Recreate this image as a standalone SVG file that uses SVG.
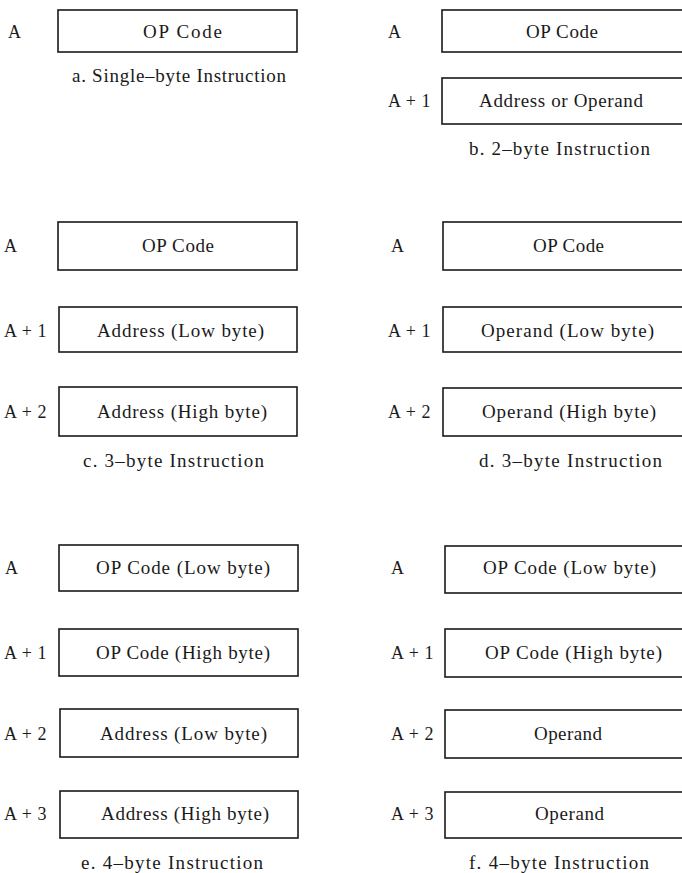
<svg xmlns="http://www.w3.org/2000/svg" width="682" height="873" viewBox="0 0 682 873">
  <style>
    .box { fill: #ffffff; stroke: #1a1a1a; stroke-width: 1.6; }
    .lbl { font-family: "Liberation Serif", "Times New Roman", serif; font-size: 19px; fill: #1a1a1a; }
    .addr { font-family: "Liberation Serif", "Times New Roman", serif; font-size: 18px; fill: #1a1a1a; letter-spacing: 0.6px; }
    .cap { font-family: "Liberation Serif", "Times New Roman", serif; font-size: 19px; fill: #1a1a1a; }
  </style>
  <rect width="682" height="873" fill="#ffffff"/>

  <!-- a. single-byte instruction -->
  <g id="panel-a">
    <text class="addr" x="8" y="38">A</text>
    <g id="a-byte0"><rect class="box" x="58" y="10" width="239" height="42"/><text class="lbl" x="143" y="38" textLength="79" lengthAdjust="spacing">OP Code</text></g>
    <text class="cap" x="72" y="82" textLength="214" lengthAdjust="spacing">a.  Single–byte Instruction</text>
  </g>

  <!-- b. 2-byte instruction -->
  <g id="panel-b">
    <text class="addr" x="388" y="38">A</text>
    <g id="b-byte0"><rect class="box" x="442" y="10" width="250" height="42"/><text class="lbl" x="526" y="38" textLength="72" lengthAdjust="spacing">OP Code</text></g>
    <text class="addr" x="388" y="107">A + 1</text>
    <g id="b-byte1"><rect class="box" x="442" y="78" width="250" height="46"/><text class="lbl" x="479" y="107" textLength="164" lengthAdjust="spacing">Address or Operand</text></g>
    <text class="cap" x="469" y="155" textLength="181" lengthAdjust="spacing">b.  2–byte Instruction</text>
  </g>

  <!-- c. 3-byte instruction (address) -->
  <g id="panel-c">
    <text class="addr" x="4" y="252">A</text>
    <g id="c-byte0"><rect class="box" x="58" y="222" width="239" height="48"/><text class="lbl" x="142" y="252" textLength="72" lengthAdjust="spacing">OP Code</text></g>
    <text class="addr" x="4" y="337">A + 1</text>
    <g id="c-byte1"><rect class="box" x="59" y="307" width="238" height="45"/><text class="lbl" x="97" y="337" textLength="167" lengthAdjust="spacing">Address (Low byte)</text></g>
    <text class="addr" x="4" y="418">A + 2</text>
    <g id="c-byte2"><rect class="box" x="59" y="387" width="238" height="49"/><text class="lbl" x="97" y="418" textLength="170" lengthAdjust="spacing">Address (High byte)</text></g>
    <text class="cap" x="83" y="467" textLength="181" lengthAdjust="spacing">c.  3–byte Instruction</text>
  </g>

  <!-- d. 3-byte instruction (operand) -->
  <g id="panel-d">
    <text class="addr" x="391" y="252">A</text>
    <g id="d-byte0"><rect class="box" x="443" y="222" width="250" height="48"/><text class="lbl" x="533" y="252" textLength="71" lengthAdjust="spacing">OP Code</text></g>
    <text class="addr" x="388" y="337">A + 1</text>
    <g id="d-byte1"><rect class="box" x="443" y="307" width="250" height="45"/><text class="lbl" x="481" y="337" textLength="173" lengthAdjust="spacing">Operand (Low byte)</text></g>
    <text class="addr" x="388" y="418">A + 2</text>
    <g id="d-byte2"><rect class="box" x="443" y="388" width="250" height="48"/><text class="lbl" x="482" y="418" textLength="174" lengthAdjust="spacing">Operand (High byte)</text></g>
    <text class="cap" x="479" y="467" textLength="183" lengthAdjust="spacing">d. 3–byte Instruction</text>
  </g>

  <!-- e. 4-byte instruction (address) -->
  <g id="panel-e">
    <text class="addr" x="5" y="574">A</text>
    <g id="e-byte0"><rect class="box" x="59" y="545" width="239" height="46"/><text class="lbl" x="96" y="574" textLength="174" lengthAdjust="spacing">OP Code (Low byte)</text></g>
    <text class="addr" x="4" y="659">A + 1</text>
    <g id="e-byte1"><rect class="box" x="59" y="629" width="239" height="47"/><text class="lbl" x="96" y="659" textLength="174" lengthAdjust="spacing">OP Code (High byte)</text></g>
    <text class="addr" x="4" y="740">A + 2</text>
    <g id="e-byte2"><rect class="box" x="60" y="709" width="238" height="48"/><text class="lbl" x="100" y="740" textLength="167" lengthAdjust="spacing">Address (Low byte)</text></g>
    <text class="addr" x="4" y="820">A + 3</text>
    <g id="e-byte3"><rect class="box" x="60" y="791" width="238" height="47"/><text class="lbl" x="101" y="820" textLength="168" lengthAdjust="spacing">Address (High byte)</text></g>
    <text class="cap" x="81" y="869" textLength="182" lengthAdjust="spacing">e.  4–byte Instruction</text>
  </g>

  <!-- f. 4-byte instruction (operand) -->
  <g id="panel-f">
    <text class="addr" x="391" y="574">A</text>
    <g id="f-byte0"><rect class="box" x="445" y="546" width="250" height="47"/><text class="lbl" x="483" y="574" textLength="173" lengthAdjust="spacing">OP Code (Low byte)</text></g>
    <text class="addr" x="391" y="659">A + 1</text>
    <g id="f-byte1"><rect class="box" x="445" y="629" width="250" height="48"/><text class="lbl" x="485" y="659" textLength="177" lengthAdjust="spacing">OP Code (High byte)</text></g>
    <text class="addr" x="391" y="740">A + 2</text>
    <g id="f-byte2"><rect class="box" x="445" y="710" width="250" height="48"/><text class="lbl" x="534" y="740" textLength="68" lengthAdjust="spacing">Operand</text></g>
    <text class="addr" x="391" y="820">A + 3</text>
    <g id="f-byte3"><rect class="box" x="445" y="792" width="250" height="46"/><text class="lbl" x="535" y="820" textLength="69" lengthAdjust="spacing">Operand</text></g>
    <text class="cap" x="469" y="869" textLength="180" lengthAdjust="spacing">f.  4–byte Instruction</text>
  </g>
</svg>
